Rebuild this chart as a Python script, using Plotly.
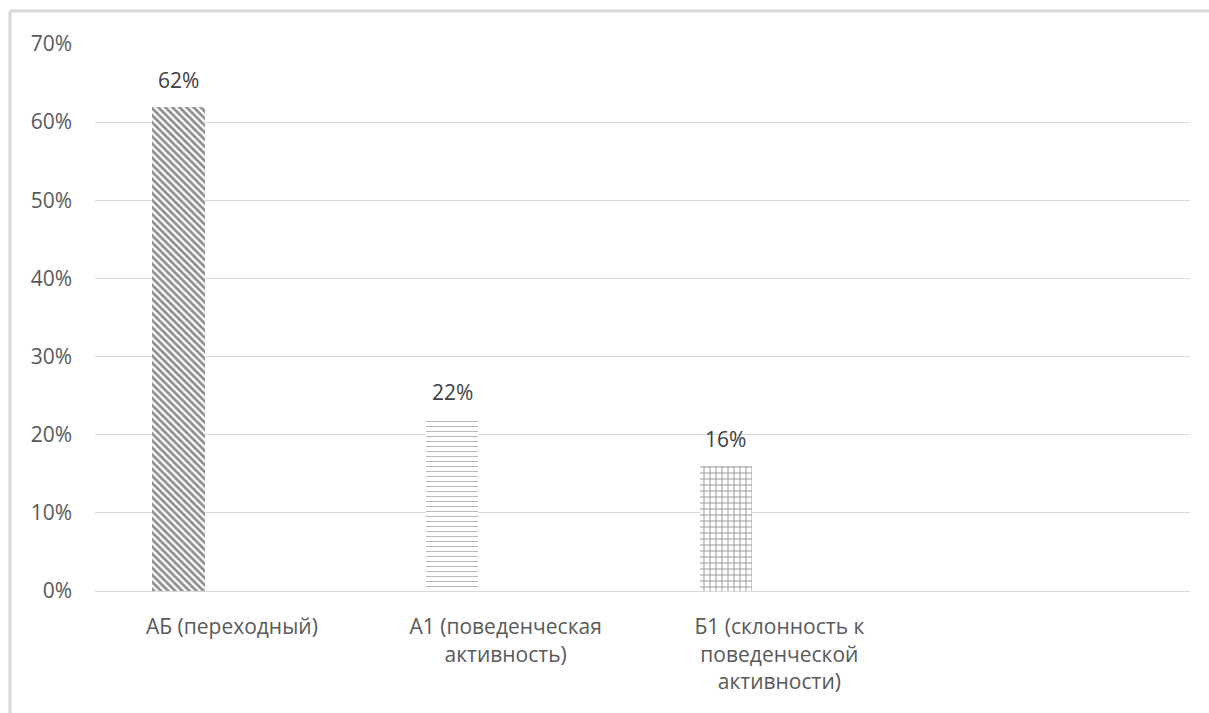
import plotly.graph_objects as go

categories = ["АБ (переходный)", "А1 (поведенческая<br>активность)", "Б1 (склонность к<br>поведенческой<br>активности)"]
values = [0.62, 0.22, 0.16]
value_labels = ["62%", "22%", "16%"]
patterns = ["\\", "-", "+"]
y_ticks = [0, 0.1, 0.2, 0.3, 0.4, 0.5, 0.6, 0.7]

W, H = 1209, 713
L, R, T, B = 95, 19, 44, 122
PW, PH = W - L - R, H - T - B

def px_x(p):
    return (p - L) / PW

def px_y(p):
    return (H - B - p) / PH

x_pos = list(range(len(categories)))
bar_offset = -0.29
bar_width = 0.19
FONT = "Open Sans"
FS = 21

fig = go.Figure()
fig.add_trace(go.Bar(
    x=x_pos,
    y=values,
    offset=bar_offset,
    width=bar_width,
    marker=dict(
        color="white",
        line=dict(width=0),
        pattern=dict(
            shape=patterns,
            size=[5, 5, 6],
            solidity=[0.55, 0.2, 0.3],
            fgcolor=["#202020", "#707070", "#333333"],
            bgcolor="white",
            fillmode="overlay",
        ),
    ),
    hoverinfo="skip",
    showlegend=False,
))

for xi, v, lab in zip(x_pos, values, value_labels):
    fig.add_annotation(
        x=xi + bar_offset + bar_width / 2, y=v, text=lab,
        showarrow=False, yanchor="bottom", yshift=11,
        font=dict(family=FONT, size=FS, color="#404040"),
    )

# chart border (top and left visible)
fig.add_shape(type="line", xref="paper", yref="paper",
              x0=px_x(10), x1=px_x(1215), y0=px_y(11), y1=px_y(11),
              line=dict(color="#d9d9d9", width=3))
fig.add_shape(type="line", xref="paper", yref="paper",
              x0=px_x(10), x1=px_x(10), y0=px_y(11), y1=px_y(720),
              line=dict(color="#d9d9d9", width=3))

fig.update_layout(
    width=W, height=H,
    margin=dict(l=L, r=R, t=T, b=B),
    paper_bgcolor="white",
    plot_bgcolor="white",
    font=dict(family=FONT, size=FS, color="#595959"),
    bargap=0,
    xaxis=dict(
        range=[-0.5, 3.5],
        tickvals=x_pos,
        ticktext=categories,
        showgrid=False,
        zeroline=False,
        showline=True,
        linecolor="#d9d9d9",
        linewidth=1,
        ticks="",
        ticklabelstandoff=17,
        tickfont=dict(family=FONT, size=FS, color="#595959"),
    ),
    yaxis=dict(
        range=[0, 0.7],
        tickvals=y_ticks,
        tickformat=".0%",
        showgrid=True,
        gridcolor="#d9d9d9",
        gridwidth=1,
        zeroline=False,
        showline=False,
        ticks="",
        ticklabelstandoff=22,
        tickfont=dict(family=FONT, size=FS, color="#595959"),
    ),
)

fig.write_html("out.html")
